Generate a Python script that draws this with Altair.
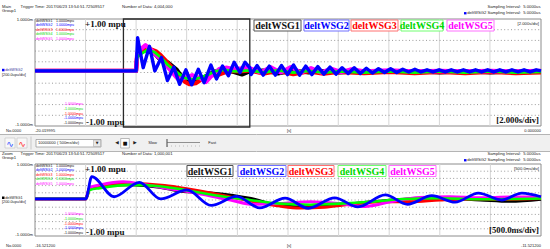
import altair as alt
import pandas as pd

# ---------------- data ----------------
SERIES = ["deltWSG1", "deltWSG2", "deltWSG3", "deltWSG4", "deltWSG5"]
LINE_COLORS = ["#000000", "#0000ff", "#ff0000", "#00ff00", "#ff00ff"]
TEXT_COLORS = ["#111111", "#0000ff", "#ff0000", "#00d800", "#ff00ff"]
BOX_COLORS = ["#555555", "#7070ff", "#ff7070", "#70ff70", "#ff70ff"]

# (time [s], value [mpu])
WSG1 = [(-20.02, 0.03), (-16.5212, 0.03), (-16.02, 0.03), (-15.98, 0.35), (-15.88, 0.38),
        (-15.58, 0.42), (-15.29, 0.35), (-15.09, 0.25), (-14.76, 0.19), (-14.40, 0.05),
        (-14.10, -0.15), (-13.90, -0.19), (-13.61, -0.15), (-13.31, -0.08), (-12.92, 0.02),
        (-12.52, 0.05), (-12.12, 0.0), (-11.83, -0.04), (-11.5212, 0.02), (-11.0, 0.04),
        (-10.4, -0.02), (-9.8, 0.04), (-9.2, 0.0), (-8.6, 0.03), (-8.0, 0.0), (-7.0, 0.02),
        (-6.0, 0.01), (-5.0, 0.02), (-4.0, 0.0), (-3.0, 0.02), (-2.0, 0.0), (-1.0, 0.02), (0.0, 0.01)]

WSG2 = [(-20.02, 0.03), (-16.5212, 0.03), (-16.02, 0.03), (-15.96, 0.65), (-15.74, 0.09),
        (-15.49, 0.49), (-15.28, 0.03), (-15.02, 0.28), (-14.78, -0.15), (-14.53, 0.10),
        (-14.30, -0.22), (-14.05, 0.05), (-13.82, -0.23), (-13.56, 0.06), (-13.33, -0.19),
        (-13.06, 0.14), (-12.84, -0.12), (-12.60, 0.12), (-12.37, -0.06), (-12.14, 0.19),
        (-11.91, 0.0), (-11.71, 0.19), (-11.5212, 0.09),
        (-11.47, -0.04), (-11.23, 0.13), (-10.99, -0.05), (-10.75, 0.12), (-10.51, -0.05),
        (-10.27, 0.13), (-10.03, -0.04), (-9.79, 0.14), (-9.55, -0.05), (-9.31, 0.12),
        (-9.07, -0.04), (-8.83, 0.11), (-8.59, -0.03), (-8.35, 0.10), (-8.11, -0.03),
        (-7.87, 0.09), (-7.63, -0.02), (-7.39, 0.09), (-7.15, -0.02), (-6.91, 0.08),
        (-6.67, -0.01), (-6.43, 0.07), (-6.19, 0.0), (-5.95, 0.07), (-5.71, 0.0),
        (-5.47, 0.06), (-5.23, 0.01), (-4.99, 0.06), (-4.75, 0.01), (-4.51, 0.05),
        (-4.27, 0.01), (-4.03, 0.05), (-3.79, 0.01), (-3.55, 0.05), (-3.31, 0.01),
        (-3.07, 0.05), (-2.83, 0.01), (-2.59, 0.05), (-2.35, 0.01), (-2.11, 0.05),
        (-1.87, 0.01), (-1.63, 0.05), (-1.39, 0.01), (-1.15, 0.05), (-0.91, 0.01),
        (-0.67, 0.05), (-0.43, 0.01), (-0.19, 0.05), (0.0, 0.03)]

WSG3 = [(-20.02, 0.03), (-16.5212, 0.03), (-16.02, 0.03), (-15.98, 0.30), (-15.88, 0.37),
        (-15.58, 0.46), (-15.24, 0.40), (-15.04, 0.32), (-14.76, 0.18), (-14.40, -0.02),
        (-14.10, -0.17), (-13.90, -0.22), (-13.66, -0.20), (-13.41, -0.12), (-13.11, -0.05),
        (-12.82, -0.05), (-12.52, 0.0), (-12.22, 0.03), (-11.93, 0.02), (-11.5212, 0.04),
        (-11.0, -0.02), (-10.4, 0.03), (-9.8, -0.03), (-9.2, 0.02), (-8.6, -0.02), (-8.0, 0.01),
        (-7.0, -0.01), (-6.0, 0.01), (-5.0, -0.01), (-4.0, 0.01), (-3.0, -0.01), (-2.0, 0.01),
        (-1.0, -0.01), (0.0, 0.0)]

WSG4 = [(-20.02, 0.03), (-16.5212, 0.03), (-16.02, 0.03), (-15.98, 0.28), (-15.88, 0.33),
        (-15.58, 0.42), (-15.29, 0.38), (-15.04, 0.28), (-14.76, 0.14), (-14.40, 0.0),
        (-14.10, -0.10), (-13.80, -0.13), (-13.51, -0.10), (-13.21, -0.05), (-12.92, 0.02),
        (-12.52, 0.05), (-12.12, 0.02), (-11.5212, 0.04), (-11.0, 0.0), (-10.4, 0.04),
        (-9.8, 0.0), (-9.2, 0.03), (-8.6, 0.0), (-8.0, 0.02), (-7.0, 0.0), (-6.0, 0.02),
        (-5.0, 0.0), (-4.0, 0.02), (-3.0, 0.0), (-2.0, 0.02), (-1.0, 0.0), (0.0, 0.01)]

WSG5 = [(-20.02, 0.03), (-16.5212, 0.03), (-16.02, 0.03), (-15.98, 0.35), (-15.88, 0.42),
        (-15.65, 0.51), (-15.42, 0.42), (-15.16, 0.30), (-14.92, 0.19), (-14.59, 0.0),
        (-14.37, -0.12), (-14.10, -0.10), (-13.80, -0.05), (-13.51, -0.10), (-13.26, -0.18),
        (-13.01, -0.05), (-12.72, 0.07), (-12.42, 0.09), (-12.12, 0.06), (-11.83, 0.08),
        (-11.5212, 0.08), (-11.1, 0.0), (-10.7, 0.10), (-10.3, 0.0), (-9.9, 0.10), (-9.5, 0.0),
        (-9.1, 0.08), (-8.7, 0.0), (-8.3, 0.07), (-7.9, 0.01), (-7.5, 0.06), (-7.0, 0.02),
        (-6.0, 0.04), (-5.0, 0.02), (-4.0, 0.03), (-3.0, 0.02), (-2.0, 0.03), (-1.0, 0.02), (0.0, 0.03)]

SERIES_POINTS = [WSG1, WSG2, WSG3, WSG4, WSG5]

TOP_DOMAIN = [-20.019995, 0.0]
BOT_DOMAIN = [-16.5212, -11.5212]
ZOOM_WINDOW = [-16.5212, -11.5212]
TOP_GRID_T = [-18.019995, -16.019995, -14.019995, -12.019995, -10.019995,
              -8.019995, -6.019995, -4.019995, -2.019995]
BOT_GRID_T = [-16.0212, -15.5212, -15.0212, -14.5212, -14.0212,
              -13.5212, -13.0212, -12.5212, -12.0212]
GRID_V = [-0.8, -0.6, -0.4, -0.2, 0.0, 0.2, 0.4, 0.6, 0.8]
Y_DOMAIN = [-1.0, 1.0]

TOP_TICK_LABELS = ["-20.019995", "0.000000"]
BOT_TICK_LABELS = ["-16.521200", "-11.521200"]

# ---------------- layout ----------------
TOP = dict(x0=35, x1=541, y0=19, y1=126)
BOT = dict(x0=35, x1=541, y0=164, y1=236)
SMALL = "Liberation Sans"
SERIF = "Liberation Serif"
ONE = pd.DataFrame({"k": [0]})


def xscale(dom, p):
    return alt.Scale(domain=dom, range=[p["x0"], p["x1"]], nice=False, zero=False)


def yscale(p):
    return alt.Scale(domain=Y_DOMAIN, range=[p["y1"], p["y0"]], nice=False, zero=False)


def txt(x, y, s, size=4.2, color="#222222", align="left", font=SMALL, weight="normal"):
    return alt.Chart(ONE).mark_text(text=s, fontSize=size, color=color, align=align,
                                    font=font, fontWeight=weight, baseline="middle").encode(
        x=alt.value(x), y=alt.value(y))


def rect(x0, x1, y0, y1, fill="white", stroke=None, sw=1.0, fill_opacity=1.0):
    kw = dict(fill=fill, fillOpacity=fill_opacity, strokeWidth=sw)
    if stroke:
        kw["stroke"] = stroke
    return alt.Chart(ONE).mark_rect(**kw).encode(
        x=alt.value(x0), x2=alt.value(x1), y=alt.value(y0), y2=alt.value(y1))


def hrule(x0, x1, y, color="#a0a0a0", sw=1.0, dash=None):
    kw = dict(color=color, strokeWidth=sw)
    if dash:
        kw["strokeDash"] = dash
    return alt.Chart(ONE).mark_rule(**kw).encode(x=alt.value(x0), x2=alt.value(x1), y=alt.value(y))


def vrule(x, y0, y1, color="#a0a0a0", sw=1.0):
    return alt.Chart(ONE).mark_rule(color=color, strokeWidth=sw).encode(
        x=alt.value(x), y=alt.value(y0), y2=alt.value(y1))


def grid(p, dom, ticks):
    v = alt.Chart(pd.DataFrame({"t": ticks})).mark_rule(color="#d6d6d6", strokeWidth=1).encode(
        x=alt.X("t:Q", scale=xscale(dom, p), axis=None),
        y=alt.value(p["y0"]), y2=alt.value(p["y1"]))
    h = alt.Chart(pd.DataFrame({"v": GRID_V})).mark_rule(
        color="#9a9a9a", strokeWidth=1, strokeDash=[1, 2.4]).encode(
        y=alt.Y("v:Q", scale=yscale(p), axis=None),
        x=alt.value(p["x0"]), x2=alt.value(p["x1"]))
    return [v, h]


def series_line(points, p, dom, color, sw, interp, clip_to=None):
    df = pd.DataFrame(points, columns=["t", "v"])
    if clip_to is not None:
        df = df[(df["t"] >= clip_to[0] - 1e-9) & (df["t"] <= clip_to[1] + 1e-9)]
    return alt.Chart(df).mark_line(color=color, strokeWidth=sw, strokeJoin="round",
                                   interpolate=interp).encode(
        x=alt.X("t:Q", scale=xscale(dom, p), axis=None),
        y=alt.Y("v:Q", scale=yscale(p), axis=None))


layers = []

# ---------- top panel ----------
layers.append(rect(TOP["x0"], TOP["x1"], TOP["y0"], TOP["y1"], fill="white", stroke="#8c8c8c"))
layers += grid(TOP, TOP_DOMAIN, TOP_GRID_T)
# zoom window box
layers.append(alt.Chart(pd.DataFrame({"a": [ZOOM_WINDOW[0]], "b": [ZOOM_WINDOW[1]]})).mark_rect(
    fillOpacity=0, stroke="#2a2a2a", strokeWidth=1.3).encode(
    x=alt.X("a:Q", scale=xscale(TOP_DOMAIN, TOP), axis=None), x2="b:Q",
    y=alt.value(TOP["y0"]), y2=alt.value(TOP["y1"] + 1)))

DRAW_ORDER = [0, 2, 4, 3, 1]
TOP_WIDTHS = {0: 3.8, 1: 3.4, 2: 4.2, 3: 2.8, 4: 4.2}
BOT_WIDTHS = {0: 2.8, 1: 2.8, 2: 3.0, 3: 2.6, 4: 3.0}
for i in DRAW_ORDER:
    layers.append(series_line(SERIES_POINTS[i], TOP, TOP_DOMAIN, LINE_COLORS[i], TOP_WIDTHS[i],
                              "linear"))

# ---------- bottom panel ----------
layers.append(rect(BOT["x0"], BOT["x1"], BOT["y0"], BOT["y1"], fill="white", stroke="#8c8c8c"))
layers += grid(BOT, BOT_DOMAIN, BOT_GRID_T)
for i in DRAW_ORDER:
    layers.append(series_line(SERIES_POINTS[i], BOT, BOT_DOMAIN, LINE_COLORS[i], BOT_WIDTHS[i],
                              "monotone", clip_to=BOT_DOMAIN))

# ---------- legend boxes ----------
TOP_BOXES = [(254, 301), (304, 349), (351, 398), (401, 443), (447, 494)]
BOT_BOXES = [(187, 233), (238, 286), (288, 334), (338, 386), (389, 436)]
for boxes, (by0, by1) in [(TOP_BOXES, (20, 31)), (BOT_BOXES, (165.5, 176.5))]:
    for i, (bx0, bx1) in enumerate(boxes):
        layers.append(rect(bx0, bx1, by0, by1, fill="white", stroke=BOX_COLORS[i], sw=1.0))
        layers.append(txt((bx0 + bx1) / 2, (by0 + by1) / 2 + 0.5, SERIES[i], size=10,
                          color=TEXT_COLORS[i], align="center", font=SERIF, weight="bold"))

# ---------- panel annotations ----------
for p, div_big, div_small in [(TOP, "[2.000s/div]", "[2.000s/div]"),
                              (BOT, "[500.0ms/div]", "[500.0ms/div]")]:
    y0, y1 = p["y0"], p["y1"]
    layers.append(txt(33, y0 + 1, "1.0000m", align="right"))
    layers.append(txt(33, y1 - 1, "-1.0000m", align="right"))
    for k in range(5):
        layers.append(txt(36, y0 + 1.8 + 4.5 * k, SERIES[k], size=3.6, color=TEXT_COLORS[k]))
        layers.append(txt(56, y0 + 1.8 + 4.5 * k, "1.0000mpu", size=3.6, color=TEXT_COLORS[k]))
    for j, k in enumerate([4, 3, 2, 1, 0]):
        layers.append(txt(83, y1 - 21.7 + 4.7 * j, "-1.0000mpu", size=3.6,
                          color=TEXT_COLORS[k], align="right"))
    layers.append(txt(85, y0 + 5, "+1.00 mpu", size=9, color="#111111", font=SERIF, weight="bold"))
    layers.append(txt(86, y1 - 4, "-1.00 mpu", size=9, color="#111111", font=SERIF, weight="bold"))
    layers.append(txt(539, y1 - 6, div_big, size=8.7, color="#111111", align="right",
                      font=SERIF, weight="bold"))
    layers.append(txt(539, y0 + 5, div_small, size=4.2, align="right"))

# side markers
layers.append(rect(2, 4.5, 68.8, 71.3, fill="#0000ff"))
layers.append(txt(5.2, 70, "deltWSG2", size=3.8, color="#333399"))
layers.append(txt(2, 74.5, "[200.0upu/div]", size=3.8))
layers.append(rect(2, 4.5, 196.5, 199, fill="#000000"))
layers.append(txt(5.2, 197.7, "deltWSG1", size=3.8))
layers.append(txt(2, 202, "[200.0upu/div]", size=3.8))

# ---------- headers ----------
for y, mode, n_data in [(6.8, "Main", "Number of Data: 4,004,000"),
                        (153.8, "Zoom", "Number of Data: 1,000,001")]:
    layers.append(txt(2, y, mode))
    layers.append(txt(20.5, y, "Trigger Time: 2017/06/23 13:54:51.72509517"))
    layers.append(txt(2, y + 4.3, "Group1"))
    layers.append(txt(122, y, n_data))
    layers.append(txt(540.5, y + 0.4, "Sampling Interval:\u00a0\u00a05.0000us", align="right"))
    layers.append(rect(464, 466.5, y + 5.3, y + 7.6, fill="#0000ff"))
    layers.append(txt(540.5, y + 6.4, "deltWSG2 Sampling Interval:\u00a0\u00a05.0000us", align="right"))

# ---------- footers ----------
for y, labels in [(131, TOP_TICK_LABELS), (246, BOT_TICK_LABELS)]:
    layers.append(txt(6, y, "No.0000", size=4.0))
    layers.append(txt(35, y, labels[0], size=4.0))
    layers.append(txt(287, y, "[s]", size=4.0))
    layers.append(txt(541, y, labels[1], size=4.0, align="right"))

# ---------- toolbar ----------
layers.append(rect(0, 550, 134.5, 151.5, fill="#f0f0f0"))
layers.append(hrule(0, 550, 134.5, color="#b4b4b4"))
layers.append(hrule(0, 550, 151.5, color="#b4b4b4"))
layers.append(rect(5, 15, 138, 148, fill="#f8f8f8", stroke="#c0c0c0", sw=0.6))
layers.append(txt(10, 143.5, "\u223f", size=9, color="#3050ff", align="center", font="DejaVu Sans"))
layers.append(rect(17, 27, 138, 148, fill="#f8f8f8", stroke="#c0c0c0", sw=0.6))
layers.append(txt(22, 143.5, "\u223f", size=9, color="#ff3030", align="center", font="DejaVu Sans"))
layers.append(vrule(31, 136.5, 149.5, color="#c8c8c8"))
layers.append(rect(36, 101, 139.5, 147, fill="white", stroke="#909090", sw=0.7))
layers.append(txt(38, 143.3, "10000000", size=4.0))
layers.append(txt(57, 143.3, "( 500ms/div)", size=4.0))
layers.append(rect(93.5, 100.5, 140, 146.5, fill="#e8e8e8", stroke="#a0a0a0", sw=0.5))
layers.append(txt(97, 143.3, "\u25bc", size=3.5, color="#222222", align="center", font="DejaVu Sans"))
layers.append(txt(117, 143.3, "\u25c0", size=4.5, color="#222222", align="center", font="DejaVu Sans"))
layers.append(rect(120.7, 129.3, 138.5, 148, fill="white", stroke="#909090", sw=0.6))
layers.append(txt(125, 143.3, "\u25a0", size=5, color="#111111", align="center", font="DejaVu Sans"))
layers.append(txt(135, 143.3, "\u25b6", size=4.5, color="#222222", align="center", font="DejaVu Sans"))
layers.append(txt(148.3, 143.3, "Slow", size=4.0))
layers.append(hrule(167, 200, 142.5, color="#909090", sw=1.0))
layers.append(hrule(167, 200, 146, color="#909090", sw=0.8, dash=[0.7, 3.3]))
layers.append(vrule(167, 139, 147, color="#606060", sw=1.2))
layers.append(txt(208.3, 143.3, "Fast", size=4.0))

chart = alt.layer(*layers).resolve_scale(
    x="independent", y="independent"
).properties(
    width=550, height=249, padding=0,
    autosize=alt.AutoSizeParams(type="none"),
    background="white",
).configure_view(stroke=None)

chart.save("out.html", embed_options={"renderer": "svg", "actions": False})
